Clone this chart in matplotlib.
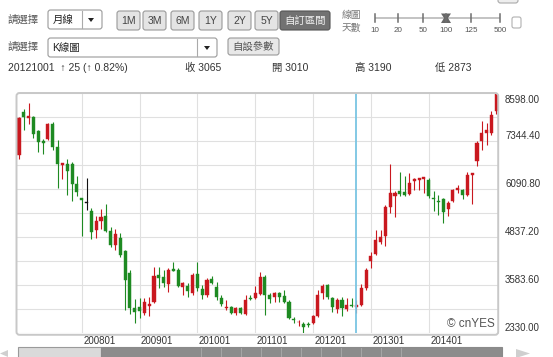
import numpy as np
import pandas as pd
import matplotlib
matplotlib.use('Agg')
import matplotlib.pyplot as plt
from matplotlib.patches import FancyBboxPatch, Rectangle, Polygon
from matplotlib.transforms import Affine2D, offset_copy, blended_transform_factory

plt.rcParams['font.family'] = ['Liberation Sans', 'Noto Sans CJK TC', 'DejaVu Sans']

# ---------------- data ----------------
months = list(pd.date_range('2006-12-01', periods=100, freq='MS').strftime('%Y%m'))

opens = [6995, 8103, 7954, 7980, 7606, 7361, 7405, 7797, 7196, 6726,
         6760, 6752, 6238, 5856, 5733, 5517, 5015, 5271, 5402, 5010,
         4636, 4811, 4480, 3913, 2978, 3009, 2860, 3043, 3155, 3845,
         3793, 3618, 4002, 3983, 3547, 3565, 3375, 3879, 3479, 3330,
         3740, 3532, 3244, 2999, 3025, 2852, 2999, 2834, 3244, 3244,
         3357, 3808, 3330, 3286, 3390, 3304, 3155, 2696, 2617, 2573,
         2573, 2607, 2782, 3375, 3592, 3244, 2965, 3208, 2965, 3077,
         3010, 3061, 3513, 4211, 4409, 4707, 4879, 5629, 5908, 6055,
         6021, 5976, 6308, 6342, 6360, 6326, 5864, 5778, 5838, 5577,
         5778, 6081, 6065, 5950, 6473, 6823, 7345, 7562, 7562, 8136]
highs = [7980, 8189, 8345, 8010, 7640, 7405, 7823, 7841, 7387, 6778,
         6883, 6804, 6439, 5864, 6386, 5603, 5394, 5577, 5707, 5099,
         5046, 4958, 4506, 3983, 3226, 3252, 3244, 3265, 4062, 4070,
         3983, 4028, 4200, 4028, 3678, 3636, 3897, 4200, 3592, 3767,
         3827, 3678, 3330, 3200, 3043, 3025, 3017, 3330, 3330, 3565,
         3939, 3853, 3375, 3417, 3417, 3461, 3200, 2764, 2677, 2633,
         2633, 2808, 3461, 3618, 3618, 3286, 3252, 3278, 3252, 3252,
         3190, 3626, 4036, 4446, 5036, 5036, 5689, 6760, 6039, 6535,
         6431, 6517, 6386, 6386, 6412, 6386, 6039, 5950, 5864, 5778,
         6099, 6211, 6099, 6535, 6517, 7345, 7867, 7823, 8129, 8598]
lows = [6883, 7640, 7805, 7431, 7073, 7013, 7379, 7110, 6125, 6360,
        5950, 5786, 5916, 4864, 5558, 4793, 4806, 5054, 4984, 4576,
        4506, 4331, 2939, 2834, 2591, 2722, 2808, 2782, 3114, 3505,
        3532, 3417, 3957, 3532, 3330, 3286, 3330, 3443, 3218, 3286,
        3618, 3200, 3043, 2939, 2834, 2808, 2834, 2808, 3200, 3218,
        3330, 2808, 3114, 3155, 3155, 3129, 2696, 2591, 2521, 2330,
        2502, 2573, 2764, 3218, 3218, 2894, 2860, 2790, 2905, 3017,
        2873, 3035, 3453, 4036, 4383, 4670, 4618, 5472, 5368, 5908,
        5908, 5950, 6073, 6081, 5995, 5864, 5517, 5428, 5211, 5386,
        5752, 5995, 5838, 5908, 5715, 6708, 7110, 7256, 7517, 8058]
closes = [7954, 7972, 8014, 7544, 7319, 7301, 7797, 7196, 6760, 6770,
          6561, 6238, 6021, 5820, 5733, 4968, 5250, 5360, 5010, 4636,
          4924, 4375, 3722, 2983, 2899, 2920, 3155, 3095, 3827, 3782,
          3652, 3983, 3965, 3565, 3636, 3443, 3853, 3505, 3330, 3722,
          3652, 3286, 3095, 3025, 2852, 2983, 2852, 3200, 3218, 3375,
          3808, 3330, 3218, 3390, 3286, 3155, 2722, 2677, 2633, 2502,
          2539, 2782, 3330, 3565, 3286, 3009, 3192, 2991, 3077, 3040,
          3065, 3513, 3991, 4357, 4759, 4845, 5629, 5995, 5995, 5976,
          5950, 6256, 6347, 6386, 6405, 5908, 5838, 5752, 5491, 5733,
          6065, 6117, 5950, 6473, 6517, 7301, 7562, 7632, 8040, 8580]

y_label_values = [8598.0, 7344.4, 6090.8, 4837.2, 3583.6, 2330.0]
x_labels = ['200801', '200901', '201001', '201101', '201201', '201301', '201401']
selected_month = '201210'
range_buttons = ['1M', '3M', '6M', '1Y', '2Y', '5Y']
custom_button = '自訂區間'
slider_stops = ['10', '20', '50', '100', '125', '500']
slider_selected = '100'
period_choice = '月線'
chart_choice = 'K線圖'
param_button = '自設參數'
select_label = '請選擇'
days_label = ['線圖', '天數']
watermark = '© cnYES'

# ---------------- figure ----------------
W, H = 553, 357
fig = plt.figure(figsize=(W / 100, H / 100), dpi=100)
fig.patch.set_facecolor('white')
px = Affine2D().scale(1 / 100, -1 / 100).translate(0, H / 100) + fig.dpi_scale_trans


def box(x, y, w, h, fc, ec, r=2.5, lw=0.8):
    p = FancyBboxPatch((x, y), w, h, boxstyle=f'round,pad=0,rounding_size={r}',
                       fc=fc, ec=ec, lw=lw, transform=px, figure=fig)
    fig.patches.append(p)


def txt(x, y, s, size=7.5, color='#333333', ha='left', va='center', **kw):
    fig.text(x, y, s, transform=px, fontsize=size, color=color, ha=ha, va=va, **kw)


def tri(points, color):
    fig.patches.append(Polygon(points, closed=True, fc=color, ec='none', transform=px, figure=fig))


# header row 1
txt(8, 20, select_label, color='#555555')
box(48, 10, 54, 19, 'white', '#9a9a9a')
txt(53, 19.5, period_choice, color='#222222')
fig.add_artist(plt.Line2D([82, 82], [11, 28], transform=px, color='#aaaaaa', lw=0.8))
tri([(88, 18), (94, 18), (91, 22)], '#222222')
bx = [117, 143, 171, 199, 228, 255]
for x0, lab in zip(bx, range_buttons):
    box(x0, 11, 23, 19, '#e4e4e4', '#9a9a9a')
    txt(x0 + 11.5, 20.5, lab, color='#444444', ha='center', size=7.5)
box(280, 11, 50, 19, '#727272', '#555555')
txt(305, 20.5, custom_button, color='#f2f2f2', ha='center', size=7.5)
txt(342, 15, days_label[0], color='#777777', size=7)
txt(342, 28, days_label[1], color='#777777', size=7)
fig.patches.append(Rectangle((375, 16.8), 125, 2.6, fc='#c4c4c4', ec='none', transform=px, figure=fig))
stop_x = [375, 398, 423, 446, 471, 500]
for sx, lab in zip(stop_x, slider_stops):
    fig.add_artist(plt.Line2D([sx, sx], [14, 21.5], transform=px, color='#6e6e6e', lw=1.1))
    txt(sx, 30, lab, size=5.8, color='#555555', ha='center')
hx = stop_x[slider_stops.index(slider_selected)]
tri([(hx - 5, 13.5), (hx + 5, 13.5), (hx + 2, 18), (hx + 5, 23), (hx - 5, 23), (hx - 2, 18)], '#666666')
box(498, -4, 20, 7, '#eeeeee', '#aaaaaa')
box(512, 17, 9, 11, 'white', '#b0b0b0', r=2)

# header row 2
txt(8, 47, select_label, color='#555555')
box(48, 38, 169, 19, 'white', '#9a9a9a')
txt(52, 47.5, chart_choice, color='#222222')
fig.add_artist(plt.Line2D([197, 197], [39, 56], transform=px, color='#aaaaaa', lw=0.8))
tri([(204, 46), (210, 46), (207, 50)], '#222222')
box(228, 38, 51, 17, '#e8e8e8', '#9a9a9a')
txt(253.5, 46.5, param_button, color='#555555', ha='center', size=7.5)

# header row 3: selected candle info
k = months.index(selected_month)
chg = closes[k] - closes[k - 1]
pct = chg / closes[k - 1] * 100
arrow = '↑' if chg >= 0 else '↓'
txt(8, 68, f'{selected_month}01  {arrow} {abs(chg):.0f} ({arrow} {abs(pct):.2f}%)', size=7.5)
txt(185, 68, f'收 {closes[k]}', size=7.5)
txt(272, 68, f'開 {opens[k]}', size=7.5)
txt(355, 68, f'高 {highs[k]}', size=7.5)
txt(435, 68, f'低 {lows[k]}', size=7.5)

# ---------------- chart axes ----------------
L, R, T, B = 17.0, 497.7, 93.3, 333.3
ax = fig.add_axes([L / W, (H - B) / H, (R - L) / W, (B - T) / H])
ax.set_facecolor('white')
n = len(months)
x = np.arange(n)
ymin, ymax = min(lows), max(highs)
ax.set_xlim(-0.42, n - 0.7)
ax.set_ylim(ymin, ymax)
step = (ymax - ymin) / 10
ax.set_yticks(ymin + step * np.arange(11))
jan_idx = [months.index(m) for m in x_labels]
ax.set_xticks(jan_idx)
ax.grid(True, color='#e0e0e0', lw=0.8)
ax.tick_params(length=0, labelleft=False, labelbottom=False)
for s in ax.spines.values():
    s.set_visible(False)

o = np.array(opens, float)
c = np.array(closes, float)
hgh = np.array(highs, float)
low = np.array(lows, float)
cols = np.where(c > o, '#c9181f', np.where(c < o, '#1e8a22', '#111111'))
ax.vlines(x, low, hgh, colors=cols, lw=0.8, zorder=3)
body = np.maximum(np.abs(c - o), 20)
ax.bar(x, body, bottom=np.minimum(o, c), width=0.64, color=cols, edgecolor=cols, lw=0.3, zorder=4)

ax.axvline(k, color='#79c5e3', lw=1.3, zorder=5)

ax.text(0.994, 0.0375, watermark, transform=ax.transAxes, ha='right', va='center',
        fontsize=8.5, color='#555555')

# frame
box(L - 0.5, T - 0.3, R - L + 1, B - T + 1.8, 'none', '#c8c8c8', r=3, lw=1.4)

# y labels on the right
ty = blended_transform_factory(ax.transAxes, ax.transData)
for v in y_label_values:
    dy = -6.7 if v == ymax else 5
    tr = offset_copy(ty, fig=fig, x=7.3, y=dy, units='dots')
    ax.text(1.0, v, f'{v:.2f}', transform=tr, ha='left', va='center', fontsize=7, color='#333333',
            clip_on=False)

# x labels
tx = blended_transform_factory(ax.transData, ax.transAxes)
for m, i in zip(x_labels, jan_idx):
    tr = offset_copy(tx, fig=fig, x=1.5, y=-8, units='dots')
    ax.text(i, 0, m, transform=tr, ha='left', va='center', fontsize=7, color='#333333', clip_on=False)

# scrollbar
fig.patches.append(Rectangle((17.8, 347), 82.9, 12, fc='#dadada', ec='#9a9a9a', lw=0.8, transform=px, figure=fig))
fig.patches.append(Rectangle((100.7, 347), 401.3, 12, fc='#8c8c8c', ec='#8a8a8a', lw=0.8, transform=px, figure=fig))
for lx in range(201, 402, 20):
    fig.add_artist(plt.Line2D([lx, lx], [348, 357], transform=px, color='#a6a6a6', lw=0.7))
tri([(0, 353.5), (8, 350), (8, 357)], '#cfcfcf')
tri([(516, 349), (530, 353.5), (516, 358)], '#cfcfcf')

fig.savefig('out.png', dpi=100)
